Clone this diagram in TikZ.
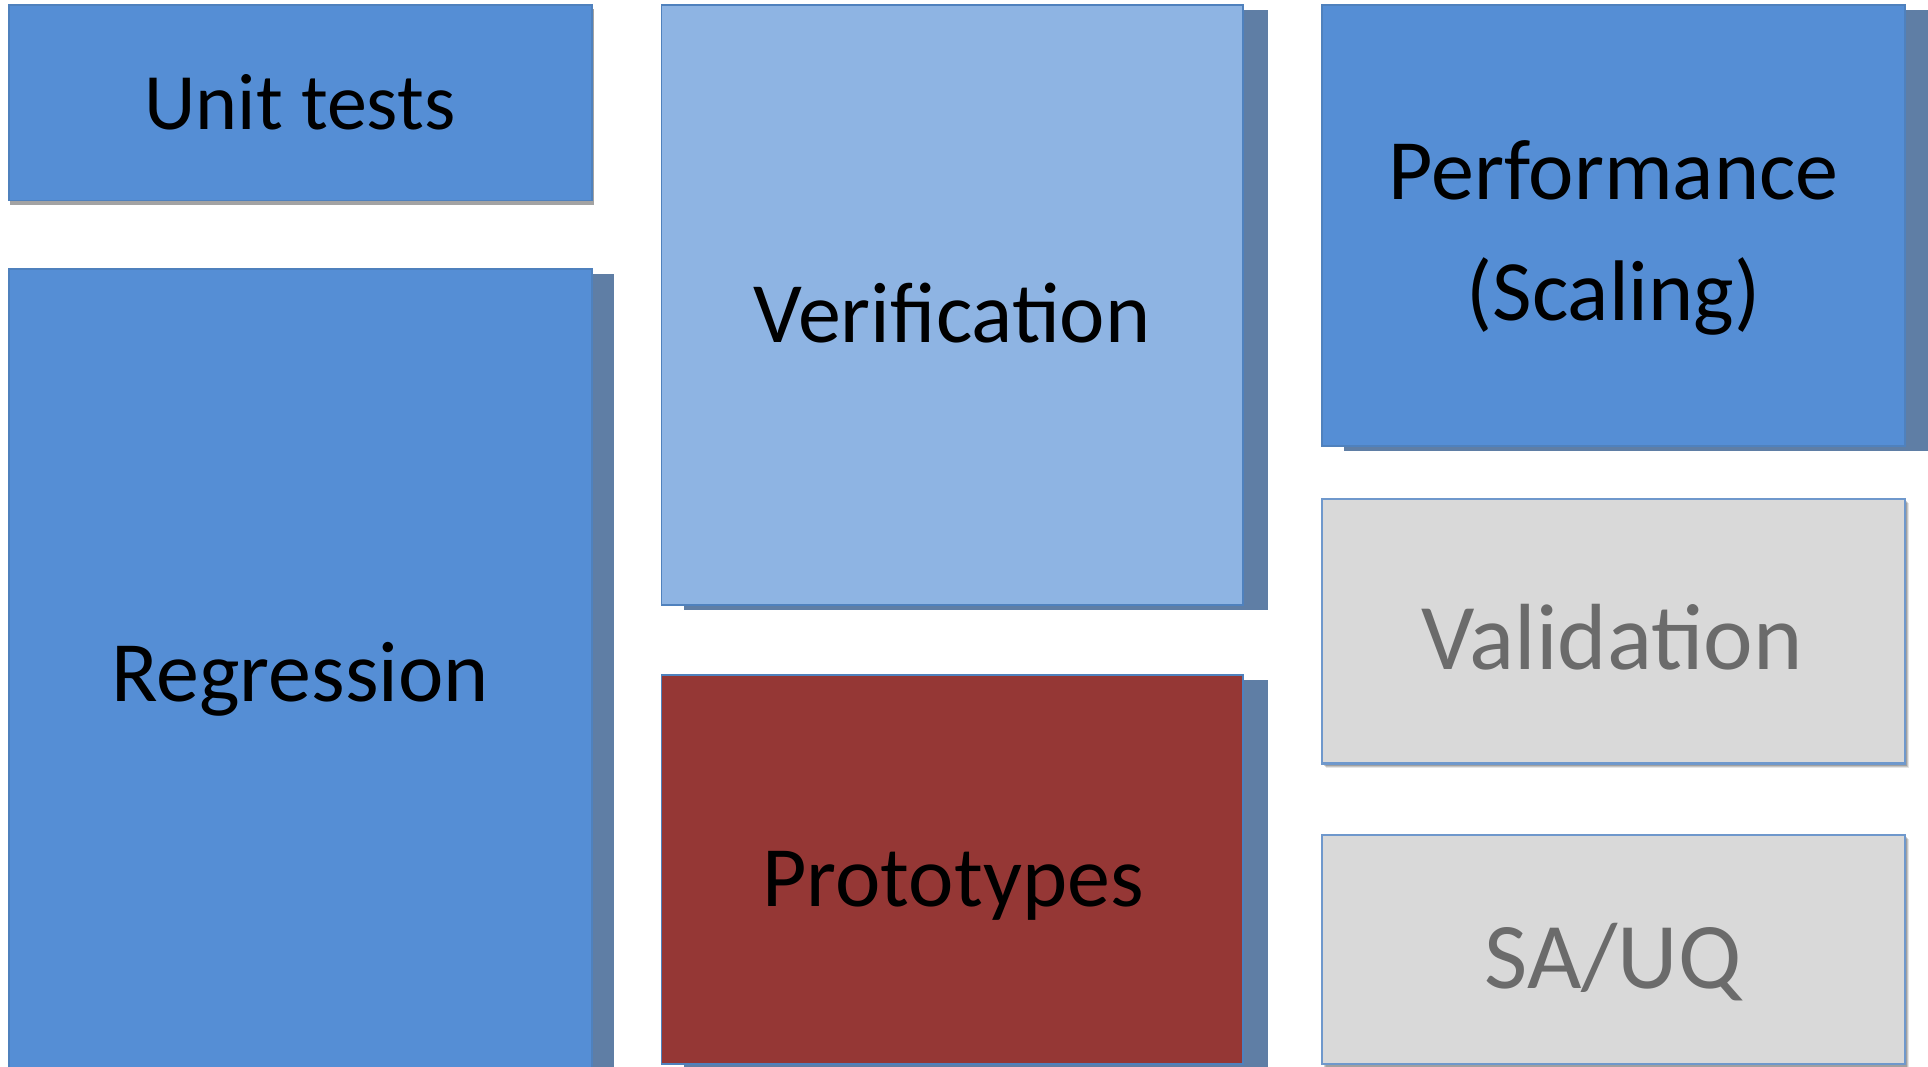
\documentclass[tikz,border=0pt]{standalone}
\usepackage{fontspec}
\setmainfont{Carlito}
\definecolor{tileblue}{HTML}{558ED5}
\definecolor{tilelight}{HTML}{8EB4E3}
\definecolor{tilered}{HTML}{953735}
\definecolor{tilegray}{HTML}{D9D9D9}
\definecolor{tileedge}{HTML}{4F81BD}
\definecolor{grayedge}{HTML}{6F98CC}
\definecolor{slateshadow}{HTML}{5F7EA5}
\definecolor{greyshadow}{HTML}{A3A3A3}
\definecolor{mutedtext}{HTML}{6B6B6B}
\begin{document}
\begin{tikzpicture}[x=1pt,y=-1pt]
\tikzset{
  tile/.style={draw=tileedge, line width=1.8pt, inner sep=0pt, outer sep=0pt,
    anchor=north west},
  greytile/.style={tile, draw=grayedge, line width=2.4pt, fill=tilegray},
  lbl/.style={anchor=base, inner sep=0pt, font=\fontsize{86}{119}\selectfont},
  smalllbl/.style={lbl, font=\fontsize{80}{110}\selectfont},
  dimlbl/.style={lbl, text=mutedtext, font=\fontsize{94}{119}\selectfont},
}
\useasboundingbox (0,0) rectangle (1928,1066);
\fill[white] (0,0) rectangle (1928,1066);

% drop shadows behind the tiles
\fill[greyshadow] (10,9) rectangle (593.5,204.5);
\fill[slateshadow] (30,274) rectangle (614,1070);
\fill[slateshadow] (684,10) rectangle (1268,610);
\fill[slateshadow] (684,680) rectangle (1268,1070);
\fill[slateshadow] (1344,10) rectangle (1930,451);
\foreach \d/\o in {4/0.10,3/0.14,2/0.18}{
  \fill[black, opacity=\o] (1322+\d,499+\d) rectangle (1905+\d,764+\d);
  \fill[black, opacity=\o] (1322+\d,835+\d) rectangle (1905+\d,1070);
}

% left column
\node[tile, fill=tileblue, minimum width=583pt, minimum height=195.5pt]
  (unit) at (8.6,4.9) {};
\node[tile, fill=tileblue, minimum width=583pt, minimum height=800pt]
  (regr) at (8.6,269) {};
% middle column
\node[tile, fill=tilelight, minimum width=581.5pt, minimum height=600pt]
  (verif) at (661.5,5) {};
\node[tile, fill=tilered, minimum width=581.5pt, minimum height=389pt]
  (proto) at (661.5,675) {};
% right column
\node[tile, fill=tileblue, minimum width=583pt, minimum height=441pt]
  (perf) at (1322,5) {};
\node[greytile, minimum width=583pt, minimum height=264.5pt]
  (valid) at (1322,499) {};
\node[greytile, minimum width=583pt, minimum height=229pt]
  (sauq) at (1322,835) {};

% labels
\node[smalllbl] (unitlbl) at (300,129) {Unit tests};
\node[lbl] (regrlbl) at (300,701) {Regression};
\node[lbl] (veriflbl) at (952,342) {Verification};
\node[lbl] (protolbl) at (953,906) {Prototypes};
\node[lbl] (perflbl1) at (1613.5,199) {Performance};
\node[lbl] (perflbl2) at (1613.5,320) {(Scaling)};
\node[dimlbl] (validlbl) at (1612,669) {Validation};
\node[dimlbl] (sauqlbl) at (1613,988) {SA/UQ};
\end{tikzpicture}
\end{document}
